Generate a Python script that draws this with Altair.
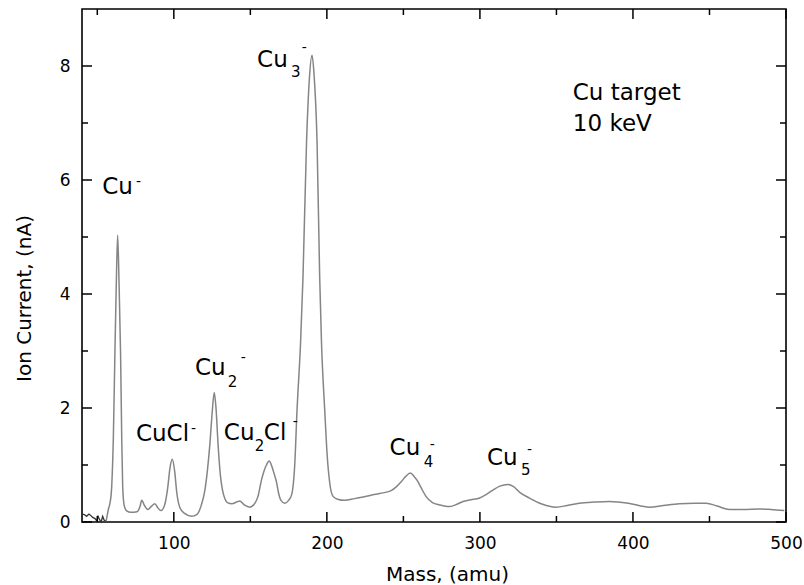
import altair as alt
import pandas as pd

# ---- spectrum ----
mass = [40.2, 41.5, 43, 44.5, 45.5, 47, 48.5, 49.6, 50.5, 51.5, 52.5, 53.5, 54.5, 55.7,
        56.5, 57.5, 58.3, 59.4, 60.5, 61.5, 62.5, 63.3, 64.2, 65.2, 66.0, 66.6, 67.5, 69,
        72, 76, 78, 79, 81, 83, 85.5, 87.6, 89.5, 91.5, 94, 96, 97.5, 99, 100.5, 102, 104,
        107, 111.6, 115, 118, 120.3, 122, 123.6, 125, 126.4, 127.5, 129, 130.5, 131.8,
        133.5, 135, 138, 141, 143, 146, 149.7, 153, 155, 157.3, 159, 160.5, 162.3, 164,
        165.5, 167.1, 168.5, 170, 172.5, 175, 177, 179, 180.5, 182.8, 184.4, 186.7, 188.5,
        190.3, 191.5, 193.6, 195.3, 196.5, 198.6, 200, 201.9, 204, 207, 211.7, 218, 223.6,
        229, 234.5, 242, 245.5, 248.7, 251.5, 254.6, 257, 259.5, 262, 265, 269, 273.7, 280,
        284, 288.9, 294, 299.8, 304, 308.5, 313, 318.3, 322, 326, 332.4, 340, 349.8, 357,
        365, 375, 384.6, 397, 410.7, 420, 430.3, 440, 447.8, 455, 463, 472, 482.6, 490, 498.9]
current = [0.14, 0.13, 0.10, 0.14, 0.12, 0.08, 0.06, 0.02, 0.10, 0.04, 0.00, 0.10, 0.03, 0.01,
           0.12, 0.25, 0.33, 0.62, 1.5, 2.96, 4.3, 5.03, 4.2, 2.96, 1.4, 0.62, 0.30, 0.20,
           0.17, 0.18, 0.28, 0.38, 0.28, 0.22, 0.28, 0.32, 0.25, 0.20, 0.30, 0.60, 0.95, 1.10, 0.90, 0.50, 0.25,
           0.15, 0.10, 0.13, 0.30, 0.56, 0.92, 1.38, 1.9, 2.27, 2.02, 1.32, 0.80, 0.56,
           0.40, 0.34, 0.32, 0.35, 0.37, 0.30, 0.26, 0.33, 0.45, 0.74, 0.90, 1.0, 1.07, 0.98,
           0.85, 0.70, 0.50, 0.38, 0.33, 0.38, 0.48, 1.0, 1.96, 3.14, 4.3, 6.65, 7.75,
           8.19, 7.9, 6.65, 4.3, 3.14, 1.96, 1.25, 0.68, 0.45, 0.40, 0.38, 0.41, 0.44,
           0.47, 0.50, 0.55, 0.62, 0.71, 0.80, 0.86, 0.80, 0.71, 0.58, 0.44, 0.34, 0.30, 0.27,
           0.30, 0.36, 0.39, 0.42, 0.48, 0.56, 0.63, 0.66, 0.62, 0.52, 0.42, 0.32, 0.26, 0.29,
           0.33, 0.35, 0.36, 0.33, 0.26, 0.29, 0.32, 0.33, 0.33, 0.28, 0.22, 0.22, 0.23, 0.22, 0.20]
dark_end = 55.7  # the first stretch of the trace is drawn darker

# ---- axes ----
x_domain = [40, 500]
y_domain = [0, 9]
x_major = [100, 200, 300, 400, 500]
x_minor = [50, 150, 250, 350, 450]
y_major = [0, 2, 4, 6, 8]
y_minor = [1, 3, 5, 7]

# ---- annotations (data units) ----
main_text = ["Cu", "CuCl", "Cu", "Cu", "Cl", "Cu", "Cu", "Cu", "Cu target", "10 keV"]
main_mass = [53.25, 75.25, 113.8, 132.7, 158.8, 154.4, 241.0, 304.6, 360.7, 360.7]
main_cur = [5.754, 1.421, 2.579, 1.439, 1.439, 7.988, 1.175, 1.0, 7.404, 6.860]

sub_text = ["2", "2", "3", "4", "5"]
sub_mass = [135.3, 152.9, 176.5, 263.3, 326.9]
sub_cur = [2.368, 1.246, 7.802, 0.970, 0.825]

sup_text = ["-", "-", "-", "-", "-", "-", "-"]
sup_mass = [75.25, 111.2, 143.8, 177.7, 183.6, 267.2, 330.7]
sup_cur = [5.965, 1.632, 2.877, 1.754, 8.321, 1.351, 1.263]

W, H = 704, 513
FONT = "DejaVu Sans"

df = pd.DataFrame({"mass": mass, "current": current})
df_dark = df[df["mass"] <= dark_end]
df_gray = df[df["mass"] >= dark_end]

xs = alt.Scale(domain=x_domain, nice=False, zero=False)
ys = alt.Scale(domain=y_domain, nice=False, zero=False)

x_axis = alt.Axis(values=x_major, ticks=False, domain=False, grid=False, format="d",
                  labelFont=FONT, labelFontSize=17, labelColor="black", labelPadding=13,
                  labelFlush=False, labelOverlap=False,
                  title="Mass, (amu)", titleFont=FONT, titleFontSize=20, titleFontWeight="normal",
                  titleColor="black", titleBaseline="alphabetic", titleX=365, titleY=58,
                  titleAnchor="middle", titleAlign="center")
y_axis = alt.Axis(values=y_major, ticks=False, domain=False, grid=False, format="d",
                  labelFont=FONT, labelFontSize=17, labelColor="black", labelPadding=12,
                  labelOverlap=False,
                  title="Ion Current, (nA)", titleFont=FONT, titleFontSize=20, titleFontWeight="normal",
                  titleColor="black", titleBaseline="alphabetic", titleX=-52, titleY=289,
                  titleAngle=-90, titleAlign="center")

line_gray = alt.Chart(df_gray).mark_line(color="#858585", strokeWidth=1.5, interpolate="monotone").encode(
    x=alt.X("mass:Q", scale=xs, axis=x_axis),
    y=alt.Y("current:Q", scale=ys, axis=y_axis),
)
line_dark = alt.Chart(df_dark).mark_line(color="#333333", strokeWidth=1.3, interpolate="linear").encode(
    x=alt.X("mass:Q", scale=xs),
    y=alt.Y("current:Q", scale=ys),
)

# inward ticks on all four sides
def xticks(vals, length):
    d = pd.DataFrame({"v": vals})
    b = alt.Chart(d).mark_rule(color="black", strokeWidth=1.5).encode(
        x=alt.X("v:Q", scale=xs), y=alt.value(H), y2=alt.value(H - length))
    t = alt.Chart(d).mark_rule(color="black", strokeWidth=1.5).encode(
        x=alt.X("v:Q", scale=xs), y=alt.value(0), y2=alt.value(length))
    return b + t

def yticks(vals, length):
    d = pd.DataFrame({"v": vals})
    l = alt.Chart(d).mark_rule(color="black", strokeWidth=1.5).encode(
        y=alt.Y("v:Q", scale=ys), x=alt.value(0), x2=alt.value(length))
    r = alt.Chart(d).mark_rule(color="black", strokeWidth=1.5).encode(
        y=alt.Y("v:Q", scale=ys), x=alt.value(W), x2=alt.value(W - length))
    return l + r

ticks = xticks(x_major, 10) + xticks(x_minor, 6) + yticks(y_major, 10) + yticks(y_minor, 6)

main_df = pd.DataFrame({"t": main_text, "m": main_mass, "c": main_cur})
sub_df = pd.DataFrame({"t": sub_text, "m": sub_mass, "c": sub_cur})
sup_df = pd.DataFrame({"t": sup_text, "m": sup_mass, "c": sup_cur})

main_lbl = alt.Chart(main_df).mark_text(font=FONT, fontSize=23, align="left", baseline="alphabetic",
                                        color="black").encode(
    x=alt.X("m:Q", scale=xs), y=alt.Y("c:Q", scale=ys), text="t:N")
sub_lbl = alt.Chart(sub_df).mark_text(font=FONT, fontSize=15, align="left", baseline="alphabetic",
                                      color="black").encode(
    x=alt.X("m:Q", scale=xs), y=alt.Y("c:Q", scale=ys), text="t:N")
sup_lbl = alt.Chart(sup_df).mark_text(font=FONT, fontSize=14, align="left", baseline="middle",
                                      color="black").encode(
    x=alt.X("m:Q", scale=xs), y=alt.Y("c:Q", scale=ys), text="t:N")

chart = alt.layer(line_gray, line_dark, ticks, main_lbl, sub_lbl, sup_lbl).properties(
    width=W, height=H,
    autosize=alt.AutoSizeParams(type="none"),
    padding={"left": 82, "top": 9, "right": 18, "bottom": 63},
    background="white",
).configure_view(stroke="black", strokeWidth=1.6)

chart.save("out.html", embed_options={"renderer": "svg", "actions": False})
